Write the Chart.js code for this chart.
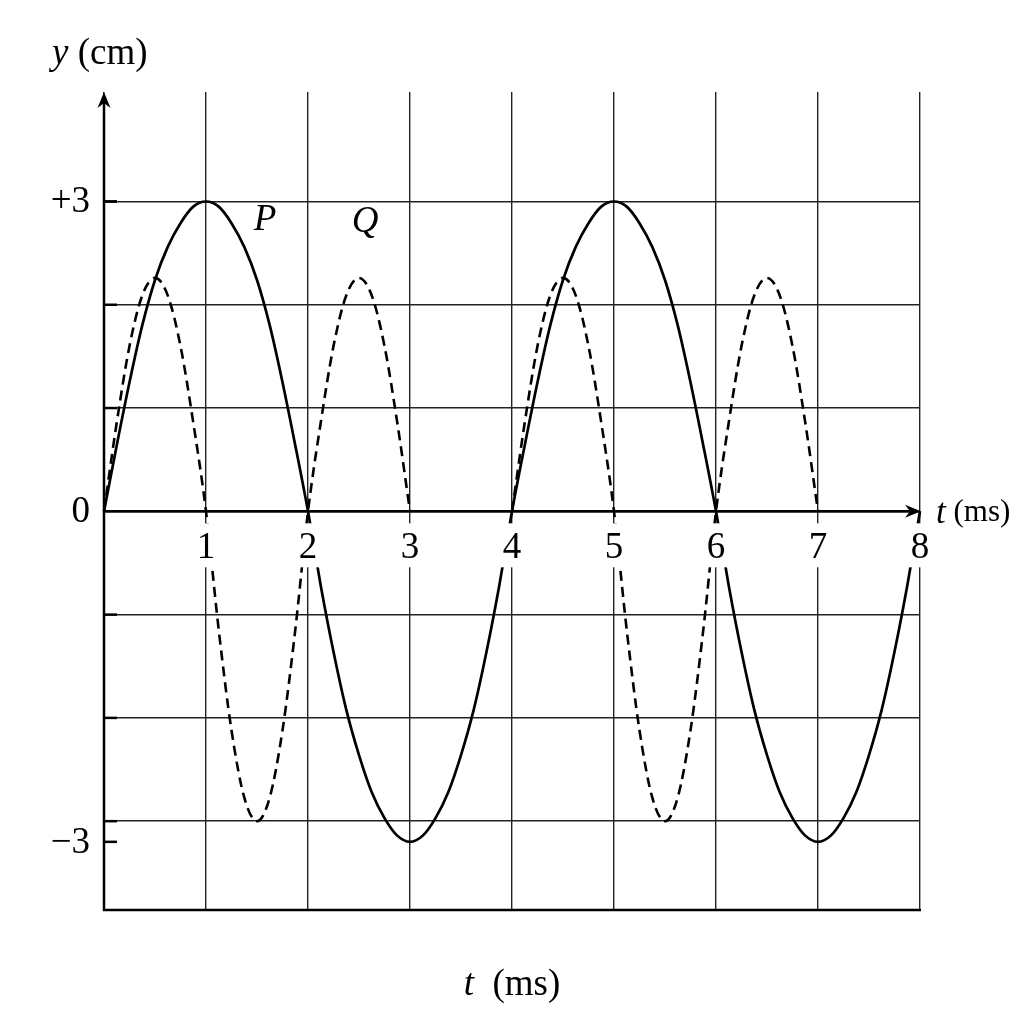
<!DOCTYPE html>
<html>
<head>
<meta charset="utf-8">
<script src="https://cdn.jsdelivr.net/npm/chart.js@4.4.1/dist/chart.umd.min.js"></script>
<style>
html, body { margin: 0; padding: 0; background: #fff; }
#chart { display: block; }
</style>
</head>
<body>
<canvas id="chart" width="1024" height="1024"></canvas>
<script>
// time samples (ms), every 0.125 ms
var times = [0, 0.125, 0.25, 0.375, 0.5, 0.625, 0.75, 0.875,
    1, 1.125, 1.25, 1.375, 1.5, 1.625, 1.75, 1.875,
    2, 2.125, 2.25, 2.375, 2.5, 2.625, 2.75, 2.875,
    3, 3.125, 3.25, 3.375, 3.5, 3.625, 3.75, 3.875,
    4, 4.125, 4.25, 4.375, 4.5, 4.625, 4.75, 4.875,
    5, 5.125, 5.25, 5.375, 5.5, 5.625, 5.75, 5.875,
    6, 6.125, 6.25, 6.375, 6.5, 6.625, 6.75, 6.875,
    7, 7.125, 7.25, 7.375, 7.5, 7.625, 7.75, 7.875, 8]

// displacement of wave P (solid), cm
var waveP = [0, 0.64, 1.25, 1.8, 2.24, 2.56, 2.79, 2.95,
    3.0, 2.95, 2.79, 2.56, 2.24, 1.8, 1.25, 0.64,
    0, -0.72, -1.36, -1.92, -2.36, -2.72, -2.97, -3.14,
    -3.2, -3.14, -2.97, -2.72, -2.36, -1.92, -1.36, -0.72,
    0, 0.64, 1.25, 1.8, 2.24, 2.56, 2.79, 2.95,
    3.0, 2.95, 2.79, 2.56, 2.24, 1.8, 1.25, 0.64,
    0, -0.72, -1.36, -1.92, -2.36, -2.72, -2.97, -3.14,
    -3.2, -3.14, -2.97, -2.72, -2.36, -1.92, -1.36, -0.72, 0]

// displacement of wave Q (dashed), cm - nothing drawn between 3 and 4 ms and after 7 ms
var waveQ = [0, 0.86, 1.6, 2.09, 2.26, 2.09, 1.6, 0.86,
    0, -1.15, -2.12, -2.77, -3.0, -2.77, -2.12, -1.15,
    0, 0.86, 1.6, 2.09, 2.26, 2.09, 1.6, 0.86,
    0, null, null, null, null, null, null, null,
    0, 0.86, 1.6, 2.09, 2.26, 2.09, 1.6, 0.86,
    0, -1.15, -2.12, -2.77, -3.0, -2.77, -2.12, -1.15,
    0, 0.86, 1.6, 2.09, 2.26, 2.09, 1.6, 0.86,
    0, null, null, null, null, null, null, null, null]

var xTicks = [1, 2, 3, 4, 5, 6, 7, 8]
var xTickLabels = ['1', '2', '3', '4', '5', '6', '7', '8']
var yGrid = [-3, -2, -1, 0, 1, 2, 3]
var yTickValues = [3, 0, -3.2]
var yTickLabels = ['+3', '0', '\u22123']

var curveNames = ['P', 'Q']
var curveNameAt = [[1.58, 2.82], [2.56, 2.8]]

var serif = '"Liberation Serif", "Times New Roman", serif'

// draws pieces of text one after another, each with its own font
function drawRun(ctx, x, y, pieces) {
    ctx.textAlign = 'left'
    ctx.textBaseline = 'middle'
    for (var i = 0; i < pieces.length; i++) {
        ctx.font = pieces[i][1]
        ctx.fillText(pieces[i][0], x, y)
        x += ctx.measureText(pieces[i][0]).width
    }
}

function runWidth(ctx, pieces) {
    var w = 0
    for (var i = 0; i < pieces.length; i++) {
        ctx.font = pieces[i][1]
        w += ctx.measureText(pieces[i][0]).width
    }
    return w
}

var axesPlugin = {
    id: 'axesPlugin',
    afterDatasetsDraw: function(chart) {
        var ctx = chart.ctx
        var xs = chart.scales.x
        var ys = chart.scales.y
        var area = chart.chartArea
        var x0 = xs.getPixelForValue(0)
        var y0 = ys.getPixelForValue(0)

        ctx.save()
        ctx.strokeStyle = '#000'
        ctx.fillStyle = '#000'
        ctx.lineWidth = 2.5
        ctx.lineCap = 'butt'

        // bottom frame line
        ctx.beginPath()
        ctx.moveTo(x0 - 1, area.bottom)
        ctx.lineTo(area.right + 1, area.bottom)
        ctx.stroke()

        // t axis with arrow
        var tipX = area.right + 1
        ctx.beginPath()
        ctx.moveTo(x0, y0)
        ctx.lineTo(tipX - 10, y0)
        ctx.stroke()
        ctx.beginPath()
        ctx.moveTo(tipX, y0)
        ctx.lineTo(tipX - 16, y0 - 6.5)
        ctx.lineTo(tipX - 11, y0)
        ctx.lineTo(tipX - 16, y0 + 6.5)
        ctx.closePath()
        ctx.fill()

        // y axis with arrow
        var tipY = area.top
        ctx.beginPath()
        ctx.moveTo(x0, area.bottom + 1)
        ctx.lineTo(x0, tipY + 10)
        ctx.stroke()
        ctx.beginPath()
        ctx.moveTo(x0, tipY)
        ctx.lineTo(x0 - 6.5, tipY + 16)
        ctx.lineTo(x0, tipY + 11)
        ctx.lineTo(x0 + 6.5, tipY + 16)
        ctx.closePath()
        ctx.fill()

        // small ticks on the inside of the y axis
        var stubs = yGrid.concat(yTickValues)
        for (var i = 0; i < stubs.length; i++) {
            if (stubs[i] == 0) continue
            var py = ys.getPixelForValue(stubs[i])
            ctx.beginPath()
            ctx.moveTo(x0, py)
            ctx.lineTo(x0 + 13, py)
            ctx.stroke()
        }

        // t tick labels sit on white patches that cut the grid and curves
        ctx.font = '37px ' + serif
        ctx.textAlign = 'center'
        ctx.textBaseline = 'middle'
        for (var i = 0; i < xTicks.length; i++) {
            var px = xs.getPixelForValue(xTicks[i])
            ctx.fillStyle = '#fff'
            ctx.fillRect(px - 15, y0 + 12, 30, 44)
            ctx.fillStyle = '#000'
            ctx.fillText(xTickLabels[i], px, y0 + 37)
        }

        // y tick labels
        ctx.textAlign = 'right'
        for (var i = 0; i < yTickValues.length; i++) {
            ctx.fillText(yTickLabels[i], x0 - 14, ys.getPixelForValue(yTickValues[i]) + 1)
        }

        // curve names
        ctx.font = 'italic 37px ' + serif
        ctx.textAlign = 'center'
        for (var i = 0; i < curveNames.length; i++) {
            ctx.fillText(curveNames[i], xs.getPixelForValue(curveNameAt[i][0]), ys.getPixelForValue(curveNameAt[i][1]))
        }

        // axis titles
        drawRun(ctx, 52, 54, [['y', 'italic 37px ' + serif], [' (cm)', '37px ' + serif]])
        drawRun(ctx, 936, y0 + 2, [['t', 'italic 35px ' + serif], [' (ms)', '31px ' + serif]])
        var bottomTitle = [['t', 'italic 37px ' + serif], ['  (ms)', '37px ' + serif]]
        drawRun(ctx, 512 - runWidth(ctx, bottomTitle) / 2, 985, bottomTitle)

        ctx.restore()
    }
}

var chart = new Chart(document.getElementById('chart'), {
    type: 'line',
    data: {
        labels: times,
        datasets: [
            {
                label: 'P',
                data: waveP,
                borderColor: '#000',
                borderWidth: 2.7,
                pointRadius: 0,
                cubicInterpolationMode: 'monotone',
                clip: false
            },
            {
                label: 'Q',
                data: waveQ,
                borderColor: '#000',
                borderWidth: 2.6,
                borderDash: [10, 6],
                pointRadius: 0,
                spanGaps: false,
                cubicInterpolationMode: 'monotone',
                clip: false
            }
        ]
    },
    options: {
        responsive: false,
        animation: false,
        events: [],
        layout: {
            padding: { left: 104, right: 104, top: 92, bottom: 114 }
        },
        plugins: {
            legend: { display: false },
            tooltip: { enabled: false }
        },
        scales: {
            x: {
                type: 'linear',
                min: 0,
                max: 8,
                ticks: { display: false, stepSize: 1 },
                grid: { drawTicks: false, color: '#222', lineWidth: 1.4 },
                border: { display: false }
            },
            y: {
                type: 'linear',
                min: -3.86,
                max: 4.06,
                afterBuildTicks: function(scale) {
                    scale.ticks = yGrid.map(function(v) { return { value: v } })
                },
                ticks: { display: false },
                grid: { drawTicks: false, color: '#222', lineWidth: 1.4 },
                border: { display: false }
            }
        }
    },
    plugins: [axesPlugin]
})
</script>
</body>
</html>
